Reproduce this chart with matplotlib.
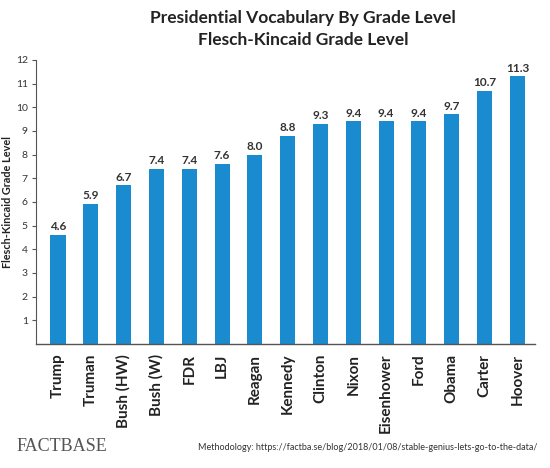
import matplotlib
matplotlib.use("Agg")
import matplotlib.pyplot as plt

# Data
presidents = ["Trump", "Truman", "Bush (HW)", "Bush (W)", "FDR", "LBJ", "Reagan",
              "Kennedy", "Clinton", "Nixon", "Eisenhower", "Ford", "Obama", "Carter", "Hoover"]
grade_level = [4.6, 5.9, 6.7, 7.4, 7.4, 7.6, 8.0, 8.8, 9.3, 9.4, 9.4, 9.4, 9.7, 10.7, 11.3]
y_ticks = list(range(1, 13))

plt.rcParams['font.family'] = ['Lato', 'DejaVu Sans']

fig = plt.figure(figsize=(5.5, 4.68), dpi=100)
ax = fig.add_axes([0.0655, 0.265, 0.908, 0.607])

x = range(len(presidents))
ax.bar(x, grade_level, width=0.46, color='#1b8bd0')

# value labels on top of bars
for i, v in enumerate(grade_level):
    ax.text(i, v + 0.12, f"{v:.1f}", ha='center', va='bottom', fontsize=8.5,
            fontweight='bold', color='#333333')

ax.set_xlim(-0.67, 14.55)
ax.set_ylim(0, 12)
ax.set_xticks(list(x))
ax.set_xticklabels(presidents, rotation=90, fontsize=11, fontweight='bold', color='#222222')
ax.set_yticks(y_ticks)
ax.set_yticklabels([str(t) for t in y_ticks], fontsize=7.5, color='#333333')
ax.tick_params(axis='x', length=0, pad=7)
ax.tick_params(axis='y', length=3, width=0.8, color='#555555', pad=3)
ax.set_ylabel("Flesch-Kincaid Grade Level", fontsize=7.8, fontweight='bold', color='#222222')
ax.yaxis.set_label_coords(-0.047, 0.5)

for side in ['top', 'right']:
    ax.spines[side].set_visible(False)
ax.spines['left'].set_color('#555555')
ax.spines['bottom'].set_color('#555555')
ax.spines['left'].set_linewidth(0.8)
ax.spines['bottom'].set_linewidth(1.0)

fig.text(0.551, 0.962, "Presidential Vocabulary By Grade Level", ha='center', va='center',
         fontsize=12.5, fontweight='bold', color='#222222')
fig.text(0.551, 0.915, "Flesch-Kincaid Grade Level", ha='center', va='center',
         fontsize=12.5, fontweight='bold', color='#222222')

fig.text(0.03, 0.047, "FACTBASE", ha='left', va='center', fontsize=13,
         family=['Liberation Serif', 'DejaVu Serif'], color='#555555')
fig.text(0.978, 0.043, "Methodology: https://factba.se/blog/2018/01/08/stable-genius-lets-go-to-the-data/",
         ha='right', va='center', fontsize=6.5, color='#333333')

fig.savefig("out.png", dpi=100, facecolor='white')
